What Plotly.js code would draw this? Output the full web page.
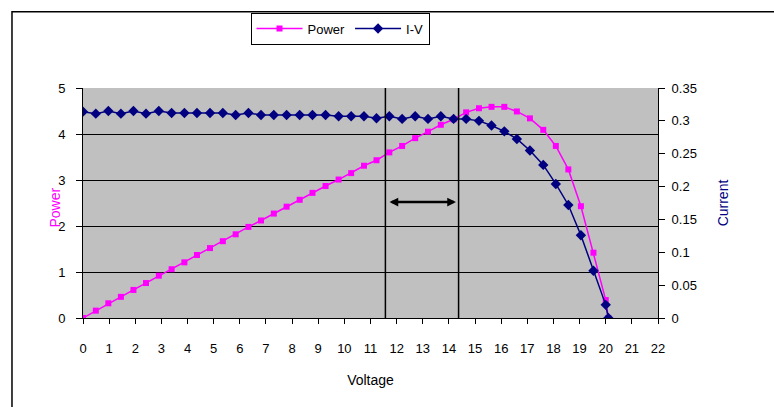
<!DOCTYPE html>
<html>
<head>
<meta charset="utf-8">
<script src="https://cdn.plot.ly/plotly-3.0.1.min.js"></script>
<style>
html,body{margin:0;padding:0;background:#fff;}
#chart{width:774px;height:407px;}
</style>
</head>
<body>
<div id="chart"></div>
<script>
// Voltage (V) shared by both series
var voltage = [0, 0.49, 0.97, 1.45, 1.93, 2.41, 2.90, 3.39, 3.88, 4.36, 4.86, 5.35, 5.84, 6.33, 6.81, 7.30, 7.79, 8.29, 8.78, 9.28, 9.78, 10.26, 10.75, 11.23, 11.72, 12.21, 12.71, 13.20, 13.69, 14.18, 14.66, 15.15, 15.63, 16.12, 16.60, 17.10, 17.61, 18.09, 18.57, 19.05, 19.53, 20.00, 20.10];
// Power (W)
var power = [0, 0.16, 0.32, 0.46, 0.61, 0.76, 0.92, 1.06, 1.21, 1.37, 1.52, 1.67, 1.82, 1.98, 2.12, 2.27, 2.42, 2.57, 2.72, 2.87, 3.01, 3.15, 3.31, 3.43, 3.60, 3.74, 3.91, 4.05, 4.20, 4.32, 4.47, 4.56, 4.59, 4.59, 4.49, 4.34, 4.09, 3.74, 3.23, 2.43, 1.42, 0.39, 0];
// Current (A)
var current = [0.314, 0.311, 0.315, 0.311, 0.315, 0.311, 0.315, 0.312, 0.312, 0.312, 0.312, 0.312, 0.309, 0.312, 0.309, 0.309, 0.309, 0.309, 0.309, 0.309, 0.307, 0.307, 0.307, 0.304, 0.307, 0.303, 0.307, 0.303, 0.307, 0.303, 0.303, 0.300, 0.293, 0.284, 0.2725, 0.255, 0.233, 0.204, 0.172, 0.126, 0.072, 0.02, 0.0];
// Power axis tick values and interior gridline values
var powerTicks = [0, 1, 2, 3, 4, 5];
var powerGrid = [1, 2, 3, 4];
// Operating window markers (V) and arrow level (W)
var windowLines = [11.57, 14.37];
var arrowPower = 2.52;

var font = 'Liberation Sans, Arial, sans-serif';

var traces = [
  // empty helper so the gridline axis gets drawn (draws no marks)
  {x: [], y: [], type: 'scatter', mode: 'lines', yaxis: 'y3', showlegend: false, hoverinfo: 'skip'},
  {x: voltage, y: power, name: 'Power', type: 'scatter', mode: 'lines+markers',
   line: {color: '#FF00FF', width: 1.5},
   marker: {symbol: 'square', size: 6, color: '#FF00FF'}, yaxis: 'y'},
  {x: voltage, y: current, name: 'I-V', type: 'scatter', mode: 'lines+markers',
   line: {color: '#000080', width: 1.5},
   marker: {symbol: 'diamond', size: 8, color: '#000080'}, yaxis: 'y2'}
];

var shapes = [
  // chart outer border
  {type: 'rect', xref: 'paper', yref: 'paper', x0: -0.1235, x1: 1.4, y0: -0.6, y1: 1.331,
   line: {color: '#000', width: 1.5}, fillcolor: 'rgba(0,0,0,0)', layer: 'below'}
];
windowLines.forEach(function (v) {
  shapes.push({type: 'line', xref: 'x', yref: 'paper', x0: v, x1: v, y0: 0, y1: 1,
    line: {color: '#000', width: 1.5}});
});

var layout = {
  width: 774, height: 407,
  margin: {l: 83, r: 116, t: 88, b: 89},
  paper_bgcolor: '#fff',
  plot_bgcolor: '#C0C0C0',
  font: {family: font, size: 13, color: '#000'},
  showlegend: true,
  legend: {orientation: 'h', x: 0.447, xanchor: 'center', y: 1.328, yanchor: 'top',
    bordercolor: '#000', borderwidth: 1, bgcolor: '#fff', font: {size: 13},
    itemwidth: 46, tracegroupgap: 0},
  xaxis: {range: [0, 22], dtick: 1, tick0: 0, showgrid: false, zeroline: false,
    showline: true, linecolor: '#000', linewidth: 1, ticks: 'outside', ticklen: 5,
    tickcolor: '#000', ticklabelstandoff: 13,
    title: {text: 'Voltage', font: {size: 14}, standoff: 20}},
  yaxis: {range: [0, 5], tickmode: 'array', tickvals: powerTicks, showgrid: false,
    zeroline: false, showline: true, linecolor: '#000', linewidth: 1,
    ticks: 'outside', ticklen: 6, tickcolor: '#000', ticklabelstandoff: 8},
  yaxis2: {range: [0, 0.35], dtick: 0.05, overlaying: 'y', side: 'right',
    showgrid: false, zeroline: false, showline: true, linecolor: '#000', linewidth: 1,
    ticks: 'outside', ticklen: 6, tickcolor: '#000', ticklabelstandoff: 4,
    title: {text: 'Current', font: {size: 14, color: '#000080'}, standoff: 22}},
  yaxis3: {range: [0, 5], overlaying: 'y', anchor: 'x', side: 'left', tickmode: 'array',
    tickvals: powerGrid, showticklabels: false, ticks: '', showline: false, zeroline: false,
    showgrid: true, gridcolor: '#000', gridwidth: 1},
  shapes: shapes,
  annotations: [
    {text: 'Power', xref: 'paper', yref: 'paper', x: (55 - 83) / 575, y: 0.48,
     xanchor: 'center', yanchor: 'middle', showarrow: false, textangle: -90,
     font: {size: 14, color: '#FF00FF'}},
    {text: '', x: windowLines[1] - 0.1, y: arrowPower, ax: windowLines[0] + 0.1, ay: arrowPower,
     xref: 'x', yref: 'y', axref: 'x', ayref: 'y', showarrow: true,
     arrowside: 'end+start', arrowhead: 2, arrowsize: 0.7, arrowwidth: 2.5, arrowcolor: '#000'}
  ]
};

Plotly.newPlot('chart', traces, layout, {displayModeBar: false, responsive: false});
</script>
</body>
</html>
